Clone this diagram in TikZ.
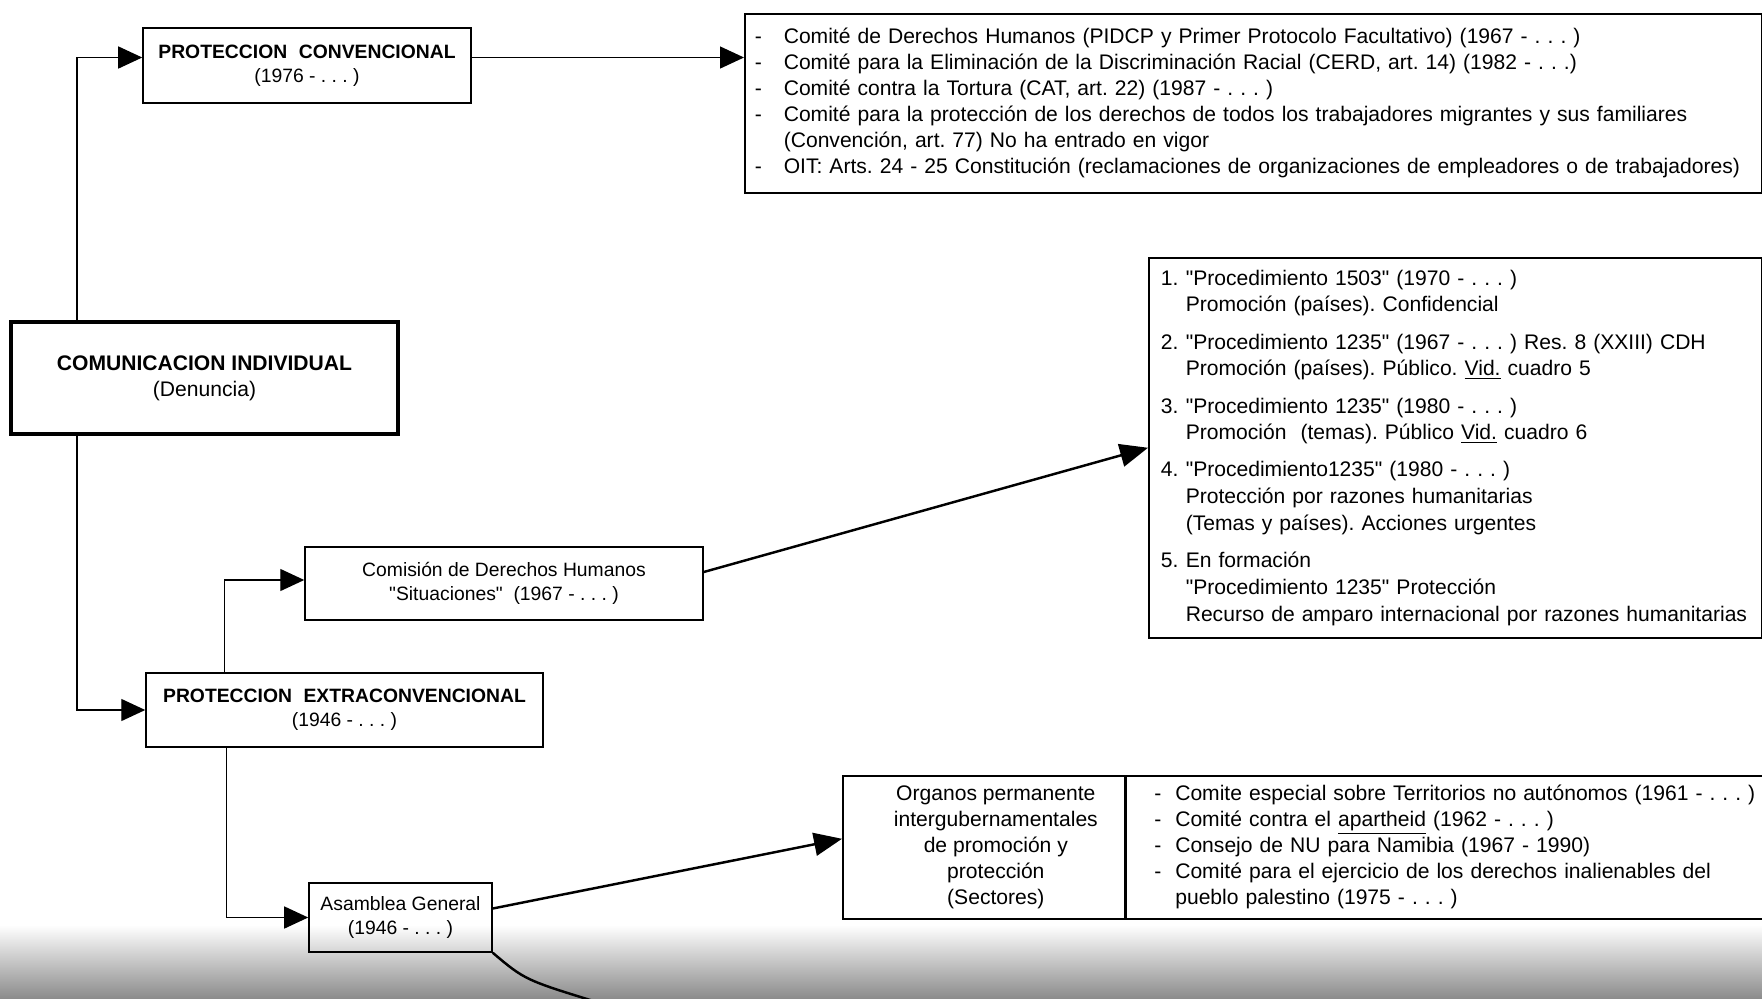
\documentclass[tikz,border=0pt]{standalone}
\usepackage{fontspec}
\setmainfont{Liberation Sans}
\usepackage{tikz}
\usetikzlibrary{arrows.meta,positioning,calc}
\frenchspacing

\begin{document}
\begin{tikzpicture}[
    x=0.02cm, y=-0.02cm,
    box/.style={
        draw, line width=0.9pt, align=center, inner sep=0pt,
        font=\fontsize{11}{13.6}\selectfont
    },
    listbox/.style={
        draw, line width=0.9pt, align=left, inner sep=0pt,
        anchor=north west, font=\fontsize{12}{14.8}\selectfont
    },
    flow/.style={
        -{Triangle[length=0.48cm, width=0.44cm]}, line width=0.8pt
    },
    bigflow/.style={
        -{Triangle[length=0.56cm, width=0.46cm]}, line width=1.4pt
    },
]

% ── scanned page edge ──
\shade[top color=white, bottom color=black!45] (0,925) rectangle (1762,998);
\useasboundingbox (0,0) rectangle (1762,998);

% ── Comunicacion individual ──
\node[box, minimum width=7.74cm, minimum height=2.24cm, line width=2.4pt,
      font=\fontsize{12}{14.8}\selectfont] (comind) at (204.5,378) {
    \textbf{COMUNICACION INDIVIDUAL}\\(Denuncia)
};

% ── Proteccion convencional ──
\node[box, minimum width=6.56cm, minimum height=1.5cm] (convbox) at (307,65.5) {
    \textbf{PROTECCION\hspace{0.6em}CONVENCIONAL}\\(1976 - . . . )
};
\node[listbox, text width=20.34cm, minimum height=3.58cm] (convlist) at (744,13) {
    \noindent\begin{tabular}{@{\hspace{0.2cm}}p{0.58cm}@{}l@{}}
    - & Comité de Derechos Humanos (PIDCP y Primer Protocolo Facultativo) (1967 - . . . )\\
    - & Comité para la Eliminación de la Discriminación Racial (CERD, art. 14) (1982 - . . .)\\
    - & Comité contra la Tortura (CAT, art. 22) (1987 - . . . )\\
    - & Comité para la protección de los derechos de todos los trabajadores migrantes y sus familiares\\
      & (Convención, art. 77) No ha entrado en vigor\\
    - & OIT: Arts. 24 - 25 Constitución (reclamaciones de organizaciones de empleadores o de trabajadores)
    \end{tabular}
};

% ── Proteccion extraconvencional ──
\node[box, minimum width=7.94cm, minimum height=1.48cm] (extbox) at (344.5,710) {
    \textbf{PROTECCION\hspace{0.6em}EXTRACONVENCIONAL}\\(1946 - . . . )
};
\node[box, minimum width=7.96cm, minimum height=1.46cm] (comision) at (504,583.5) {
    Comisión de Derechos Humanos\\\textquotedbl Situaciones\textquotedbl\ \ (1967 - . . . )
};
\node[box, minimum width=3.66cm, minimum height=1.38cm] (asamblea) at (400.5,917.5) {
    Asamblea General\\(1946 - . . . )
};

% ── Procedimientos ──
\node[listbox, text width=12.26cm, minimum height=7.6cm,
      font=\fontsize{12}{15.2}\selectfont] (procs) at (1148,257) {
    \noindent\begin{tabular}{@{\hspace{0.24cm}}p{0.5cm}@{}l@{}}
    1. & \textquotedbl Procedimiento 1503\textquotedbl\ (1970 - . . . )\\
       & Promoción (países). Confidencial\\[6pt]
    2. & \textquotedbl Procedimiento 1235\textquotedbl\ (1967 - . . . ) Res. 8 (XXIII) CDH\\
       & Promoción (países). Público. \underline{Vid.} cuadro 5\\[6pt]
    3. & \textquotedbl Procedimiento 1235\textquotedbl\ (1980 - . . . )\\
       & Promoción\ \ (temas). Público \underline{Vid.} cuadro 6\\[6pt]
    4. & \textquotedbl Procedimiento1235\textquotedbl\ (1980 - . . . )\\
       & Protección por razones humanitarias\\
       & (Temas y países). Acciones urgentes\\[6pt]
    5. & En formación\\
       & \textquotedbl Procedimiento 1235\textquotedbl\ Protección\\
       & Recurso de amparo internacional por razones humanitarias
    \end{tabular}
};

% ── Organos permanentes ──
\node[box, anchor=north west, minimum width=5.64cm, minimum height=2.86cm,
      font=\fontsize{12}{14.8}\selectfont] (organ) at (842,775) {
    \hspace*{0.6cm}\begin{tabular}{@{}c@{}}
    Organos permanente\\intergubernamentales\\de promoción y\\protección\\(Sectores)
    \end{tabular}
};
\node[listbox, text width=12.74cm, minimum height=2.86cm] (sectors) at (organ.north east) {
    \noindent\begin{tabular}{@{\hspace{0.56cm}}p{0.42cm}@{}l@{}}
    - & Comite especial sobre Territorios no autónomos (1961 - . . . )\\
    - & Comité contra el \underline{apartheid} (1962 - . . . )\\
    - & Consejo de NU para Namibia (1967 - 1990)\\
    - & Comité para el ejercicio de los derechos inalienables del\\
      & pueblo palestino (1975 - . . . )
    \end{tabular}
};

% ── Flow arrows ──
\draw[flow] ([xshift=1.36cm]comind.north west) |- ([yshift=0.16cm]convbox.west);
\draw[flow] ([xshift=1.36cm]comind.south west) |- (extbox.west);
\draw[flow] ([yshift=0.16cm]convbox.east) -- ([yshift=0.16cm]convbox.east -| convlist.west);
\draw[flow] ([xshift=1.58cm]extbox.north west) |- ([yshift=0.07cm]comision.west);
\draw[flow] ([xshift=1.62cm]extbox.south west) |- (asamblea.west);
\draw[bigflow] ([yshift=0.23cm]comision.east) -- (procs.west);
\draw[bigflow] ([yshift=0.18cm]asamblea.east) -- ([yshift=0.17cm]organ.west);

% ── continues off the page ──
\coordinate (offpage) at (600,1003);
\draw[line width=1.4pt] (asamblea.south east) .. controls (525,980) .. (offpage);

\end{tikzpicture}
\end{document}
